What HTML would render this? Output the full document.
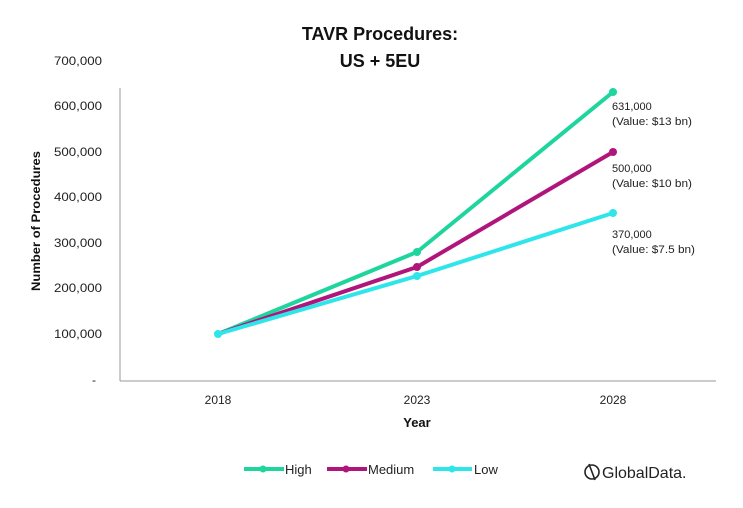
<!DOCTYPE html>
<html><head><meta charset="utf-8"><style>
body{margin:0;background:#fff;}
svg{display:block;font-family:"Liberation Sans",sans-serif;}
</style></head><body>
<svg width="743" height="508" viewBox="0 0 743 508">
<text x="380" y="40" text-anchor="middle" font-size="18" font-weight="bold" fill="#111">TAVR Procedures:</text>
<text x="380" y="67" text-anchor="middle" font-size="18" font-weight="bold" fill="#111">US + 5EU</text>
<line x1="120" y1="88" x2="120" y2="381" stroke="#999" stroke-width="1"/>
<line x1="120" y1="381" x2="716" y2="381" stroke="#999" stroke-width="1"/>
<g font-size="12" fill="#222" text-anchor="end">
<text x="102" y="65" textLength="48" lengthAdjust="spacingAndGlyphs">700,000</text>
<text x="102" y="110" textLength="48" lengthAdjust="spacingAndGlyphs">600,000</text>
<text x="102" y="156" textLength="48" lengthAdjust="spacingAndGlyphs">500,000</text>
<text x="102" y="201" textLength="48" lengthAdjust="spacingAndGlyphs">400,000</text>
<text x="102" y="247" textLength="48" lengthAdjust="spacingAndGlyphs">300,000</text>
<text x="102" y="292" textLength="48" lengthAdjust="spacingAndGlyphs">200,000</text>
<text x="102" y="338" textLength="48" lengthAdjust="spacingAndGlyphs">100,000</text>
<text x="96" y="384">-</text>
</g>
<text transform="translate(40,221) rotate(-90)" text-anchor="middle" font-size="12" font-weight="bold" fill="#111" textLength="140" lengthAdjust="spacingAndGlyphs">Number of Procedures</text>
<g font-size="12" fill="#222" text-anchor="middle">
<text x="218" y="404">2018</text>
<text x="417" y="404">2023</text>
<text x="613" y="404">2028</text>
</g>
<text x="417" y="427" text-anchor="middle" font-size="13" font-weight="bold" fill="#111">Year</text>
<g stroke-width="4" fill="none" stroke-linejoin="round">
<polyline points="218,334 417,252 613,92" stroke="#1fd59e"/>
<polyline points="218,334 417,267 613,152" stroke="#b0157c"/>
<polyline points="218,334 417,276 613,213" stroke="#2ee6ea"/>
</g>
<g>
<circle cx="417" cy="252" r="4" fill="#1fd59e"/><circle cx="613" cy="92" r="4" fill="#1fd59e"/>
<circle cx="417" cy="267" r="4" fill="#b0157c"/><circle cx="613" cy="152" r="4" fill="#b0157c"/>
<circle cx="218" cy="334" r="4" fill="#2ee6ea"/><circle cx="417" cy="276" r="4" fill="#2ee6ea"/><circle cx="613" cy="213" r="4" fill="#2ee6ea"/>
</g>
<g font-size="11" fill="#222">
<text x="612" y="110">631,000</text><text x="612" y="125" textLength="80" lengthAdjust="spacingAndGlyphs">(Value: $13 bn)</text>
<text x="612" y="172">500,000</text><text x="612" y="187" textLength="80" lengthAdjust="spacingAndGlyphs">(Value: $10 bn)</text>
<text x="612" y="238">370,000</text><text x="612" y="253" textLength="83" lengthAdjust="spacingAndGlyphs">(Value: $7.5 bn)</text>
</g>
<g stroke-width="4">
<line x1="244" y1="469" x2="284" y2="469" stroke="#1fd59e"/><circle cx="263" cy="469" r="3.5" fill="#1fd59e"/>
<line x1="327" y1="469" x2="367" y2="469" stroke="#b0157c"/><circle cx="346" cy="469" r="3.5" fill="#b0157c"/>
<line x1="433" y1="469" x2="472" y2="469" stroke="#2ee6ea"/><circle cx="452" cy="469" r="3.5" fill="#2ee6ea"/>
</g>
<g font-size="13" fill="#222">
<text x="285" y="474">High</text><text x="368" y="474">Medium</text><text x="474" y="474">Low</text>
</g>
<circle cx="592" cy="472" r="7" fill="none" stroke="#222" stroke-width="1.6"/>
<line x1="589" y1="464" x2="595" y2="480" stroke="#222" stroke-width="1.6"/>
<text x="602" y="478" font-size="16" fill="#222">GlobalData.</text>
</svg>
</body></html>
